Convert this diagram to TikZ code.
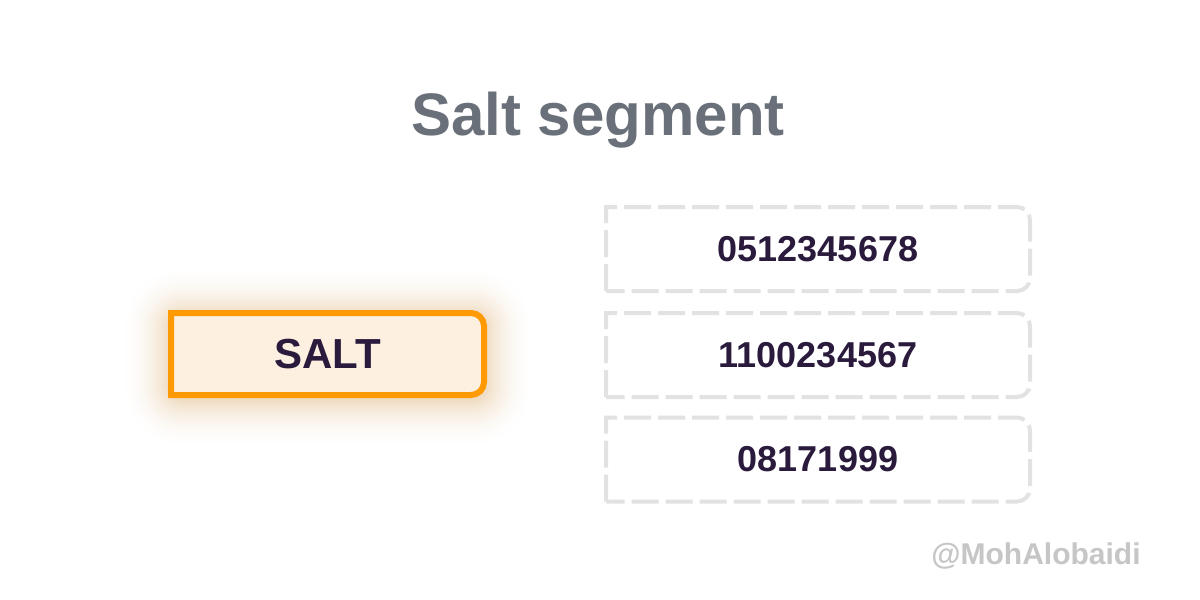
\documentclass[tikz,border=0pt]{standalone}
\usepackage{fontspec}
\setmainfont{Liberation Sans}
\usetikzlibrary{backgrounds}
\definecolor{saltorange}{HTML}{FF9A05}
\definecolor{saltfill}{HTML}{FDF0E0}
\definecolor{glowtone}{HTML}{D39A50}
\definecolor{inkpurple}{HTML}{2A1A3C}
\definecolor{dashgray}{HTML}{E2E2E2}
\definecolor{titlegray}{HTML}{6A7079}
\definecolor{handlegray}{HTML}{C6C6C6}
% box with the two right corners rounded
\newcommand{\tabshape}[3]{%
  \draw[#1] (#2.south west) -- (#2.north west) -- ([xshift=-#3]#2.north east)
    arc[start angle=90,end angle=0,radius=#3] -- ([yshift=#3]#2.south east)
    arc[start angle=0,end angle=-90,radius=#3] -- cycle;}
\tikzset{
  saltnode/.style={minimum width=156.5pt,minimum height=41pt,inner sep=0pt,outer sep=0pt,
    text=inkpurple,font=\fontsize{21}{21}\selectfont\bfseries},
  numnode/.style={minimum width=212pt,minimum height=42pt,inner sep=0pt,outer sep=0pt,
    text=inkpurple,font=\fontsize{18}{18}\selectfont\bfseries},
  saltline/.style={draw=saltorange,fill=saltfill,line width=3pt},
  dashline/.style={draw=dashgray,line width=2pt,dash pattern=on 13.5pt off 3.5pt}
}
\begin{document}
\begin{tikzpicture}[x=0.5pt,y=-0.5pt]
	\useasboundingbox (0,0) rectangle (1200,600);
	\node[anchor=base,text=titlegray,font=\fontsize{30}{30}\selectfont\bfseries] (title) at (598,135) {Salt segment};
	\node[saltnode] (salt) at (327.5,354) {SALT};
	\node[numnode] (numA) at (818,249) {0512345678};
	\node[numnode] (numB) at (818,355) {1100234567};
	\node[numnode] (numC) at (818,459.5) {08171999};
	\node[anchor=base,text=handlegray,font=\fontsize{15}{15}\selectfont\bfseries] (handle) at (1036,564) {@MohAlobaidi};
	\begin{scope}[on background layer]
	\fill[white] (0,0) rectangle (1200,600);
	% soft glow round the salt box, outer rings first
	\foreach \g in {30,29,...,1}{
		\pgfmathsetmacro\glowpct{38*(1-\g/30)^2}
		\fill[glowtone!\glowpct!white,rounded corners=6pt+\g*0.85pt]
			([shift={(-\g*0.85pt,\g*0.85pt-1.5pt)}]salt.north west) rectangle ([shift={(\g*0.85pt,-\g*0.85pt-1.5pt)}]salt.south east);
	}
	\tabshape{saltline}{salt}{6.5pt}
	\end{scope}
	\tabshape{dashline}{numA}{6.5pt}
	\tabshape{dashline}{numB}{6.5pt}
	\tabshape{dashline}{numC}{6.5pt}
\end{tikzpicture}
\end{document}
